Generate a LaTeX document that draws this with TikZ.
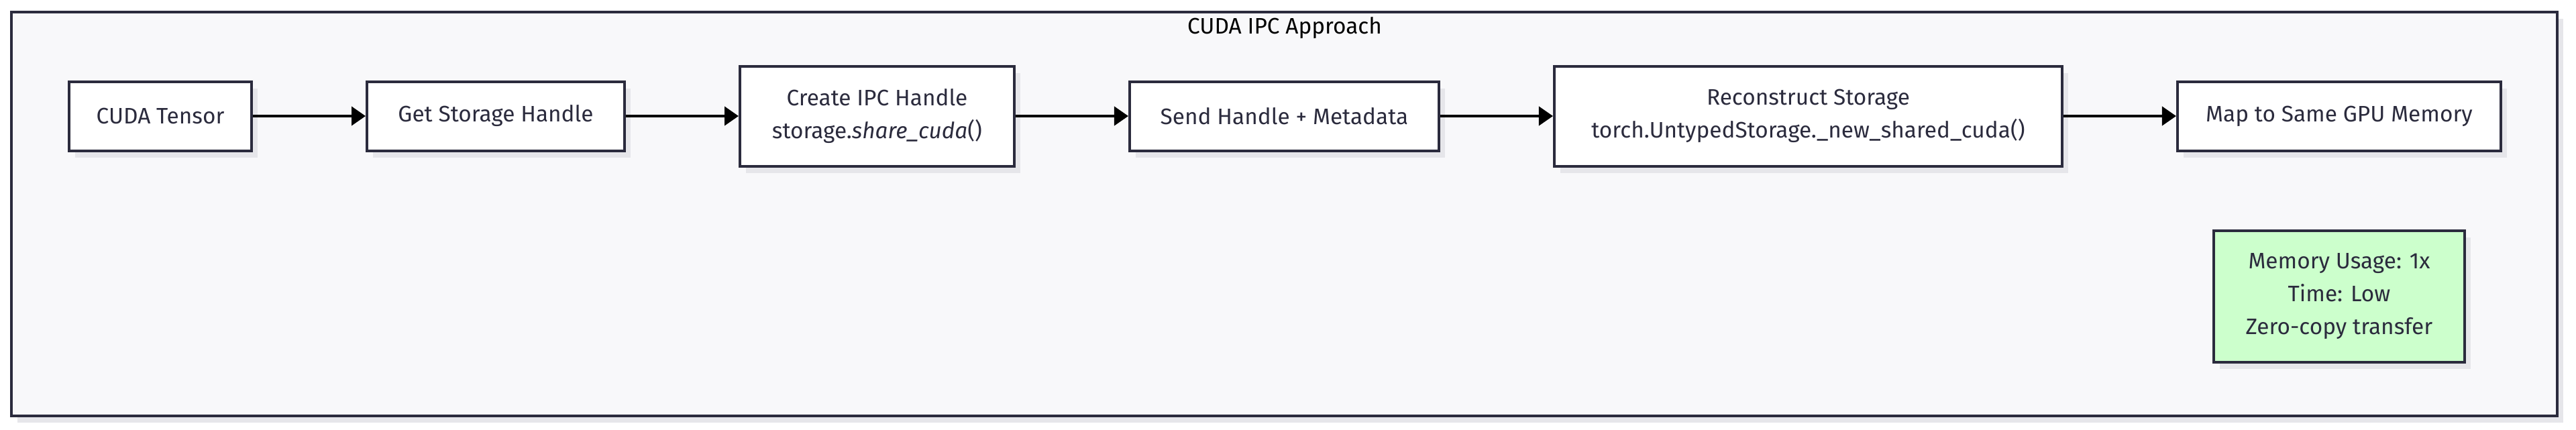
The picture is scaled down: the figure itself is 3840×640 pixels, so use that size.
\documentclass[tikz,border=0pt]{standalone}
\usepackage{fontspec}
\setmainfont{Fira Sans}
\usetikzlibrary{positioning,arrows.meta,shadows}
\definecolor{ink}{HTML}{2B2B3D}
\definecolor{bgfill}{HTML}{F8F8FA}
\definecolor{shade}{HTML}{E6E6EA}
\definecolor{okgreen}{HTML}{CCFFCC}
\begin{document}
\begin{tikzpicture}[x=0.1mm,y=-0.1mm,node distance =16.8mm,font=\fontsize{9.5}{14}\selectfont]
  \tikzstyle{boxshadow}=[drop shadow={shadow xshift=0.9mm,shadow yshift=-1mm,fill=shade,opacity=1}]
  \tikzstyle{stepbox}=[draw=ink,line width=0.4mm,fill=white,text=ink,align=center,
                       inner sep=0pt,minimum height=10.3mm,boxshadow]
  \tikzstyle{tallbox}=[stepbox,minimum height=14.9mm]
  \tikzstyle{flow}=[-{Triangle[length=2.1mm,width=2.8mm]},line width=0.4mm,black]
  \useasboundingbox (0,0) rectangle (3840,640);
  \draw[draw=ink,line width=0.45mm,fill=bgfill,boxshadow] (17,18) rectangle (3812,620);
  \node[text=black] (title) at (1915,42) {CUDA IPC Approach};
  \node[stepbox,minimum width=27.2mm] (tensor) at (239,173) {CUDA Tensor};
  \node[stepbox,minimum width=38.4mm,right=of tensor] (handle) {Get Storage Handle};
  \node[tallbox,minimum width=40.9mm,right=of handle] (ipc)
       {Create IPC Handle\\storage.\textit{share\_cuda}()};
  \node[stepbox,minimum width=46.1mm,right=of ipc] (send) {Send Handle + Metadata};
  \node[tallbox,minimum width=75.7mm,right=of send] (rebuild)
       {Reconstruct Storage\\torch.UntypedStorage.\_new\_shared\_cuda()};
  \node[stepbox,minimum width=48.2mm,right=of rebuild] (map) {Map to Same GPU Memory};
  \node[stepbox,fill=okgreen,minimum width=37.4mm,minimum height=19.6mm,below=11.5mm of map] (stats)
       {Memory Usage: 1x\\Time: Low\\Zero-copy transfer};
  \draw[flow] (tensor) -- (handle);
  \draw[flow] (handle) -- (ipc);
  \draw[flow] (ipc) -- (send);
  \draw[flow] (send) -- (rebuild);
  \draw[flow] (rebuild) -- (map);
\end{tikzpicture}
\end{document}
